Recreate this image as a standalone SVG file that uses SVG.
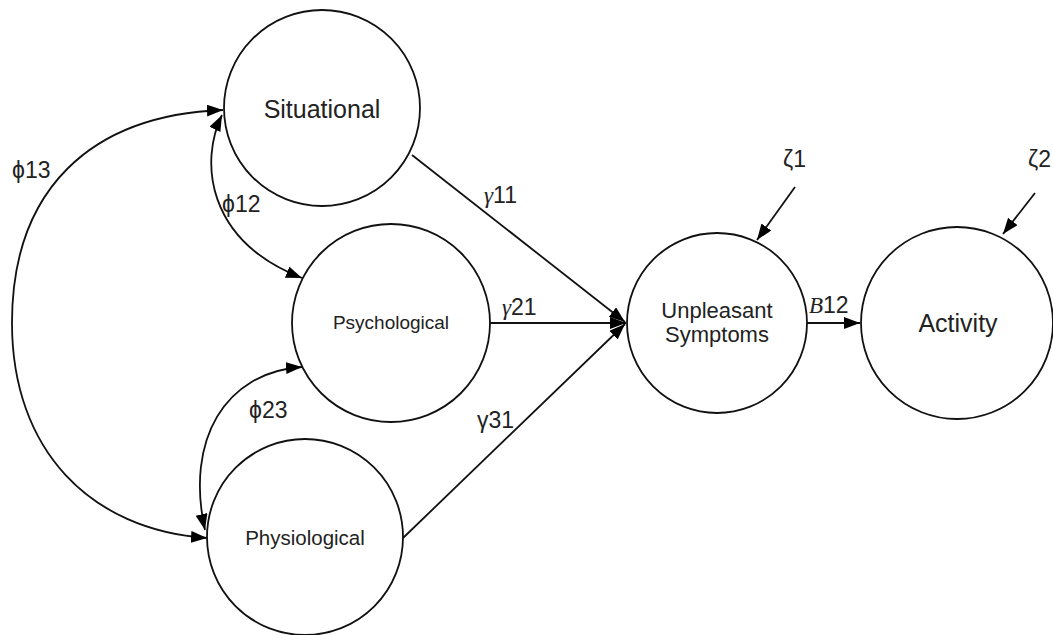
<svg xmlns="http://www.w3.org/2000/svg" width="1053" height="635" viewBox="0 0 1053 635">
<style>
.node{fill:#fff;stroke:#111;stroke-width:1.8}
.lbl{font-family:"Liberation Sans",Arial,sans-serif;fill:#222;text-anchor:middle}
.edge{fill:none;stroke:#111;stroke-width:1.8}
.el{font-family:"Liberation Sans",Arial,sans-serif;font-size:23px;fill:#222}
.it{font-family:"Liberation Serif","Times New Roman",serif;font-style:italic}
</style>
<defs>
<marker id="ah" markerUnits="userSpaceOnUse" markerWidth="18" markerHeight="14" refX="16" refY="6" orient="auto-start-reverse">
<path d="M0,0 L16,6 L0,12 z" fill="#000"/>
</marker>
</defs>
<rect width="1053" height="635" fill="#fff"/>
<g id="situational">
<circle class="node" cx="322" cy="108" r="98"/>
<text class="lbl" x="322" y="118" font-size="25">Situational</text>
</g>
<g id="psychological">
<circle class="node" cx="391" cy="323" r="99"/>
<text class="lbl" x="391" y="329" font-size="19">Psychological</text>
</g>
<g id="physiological">
<circle class="node" cx="305" cy="537" r="98"/>
<text class="lbl" x="305" y="545" font-size="20.5">Physiological</text>
</g>
<g id="unpleasant">
<circle class="node" cx="717" cy="323" r="90"/>
<text class="lbl" x="717" y="318" font-size="22">Unpleasant</text>
<text class="lbl" x="717" y="342" font-size="22">Symptoms</text>
</g>
<g id="activity">
<circle class="node" cx="957" cy="323" r="96"/>
<text class="lbl" x="958" y="332" font-size="25">Activity</text>
</g>
<g id="connectors">
<path class="edge" d="M412,155 L625,322" marker-end="url(#ah)"/>
<path class="edge" d="M490,323 L626,323" marker-end="url(#ah)"/>
<path class="edge" d="M403,538 L625,324" marker-end="url(#ah)"/>
<path class="edge" d="M807,323 L860,323" marker-end="url(#ah)"/>
<path class="edge" d="M795,187 L757,240" marker-end="url(#ah)"/>
<path class="edge" d="M1035,193 L1003,234" marker-end="url(#ah)"/>
<path class="edge" d="M223,110 C90,115 12,190 12,323 C12,450 90,530 207,538" marker-start="url(#ah)" marker-end="url(#ah)"/>
<path class="edge" d="M222,115 C200,160 205,240 302,278" marker-start="url(#ah)" marker-end="url(#ah)"/>
<path class="edge" d="M302,367 C225,372 185,440 205,530" marker-start="url(#ah)" marker-end="url(#ah)"/>
</g>
<g id="labels">
<text class="el" x="12" y="178">ϕ13</text>
<text class="el" x="222" y="212">ϕ12</text>
<text class="el" x="249" y="418">ϕ23</text>
<text class="el" x="484" y="203"><tspan class="it">γ</tspan>11</text>
<text class="el" x="502" y="315"><tspan class="it">γ</tspan>21</text>
<text class="el" x="477" y="428">γ31</text>
<text class="el" x="809" y="313"><tspan class="it">B</tspan>12</text>
<text class="el" x="783" y="167">ζ1</text>
<text class="el" x="1028" y="167">ζ2</text>
</g>
</svg>
